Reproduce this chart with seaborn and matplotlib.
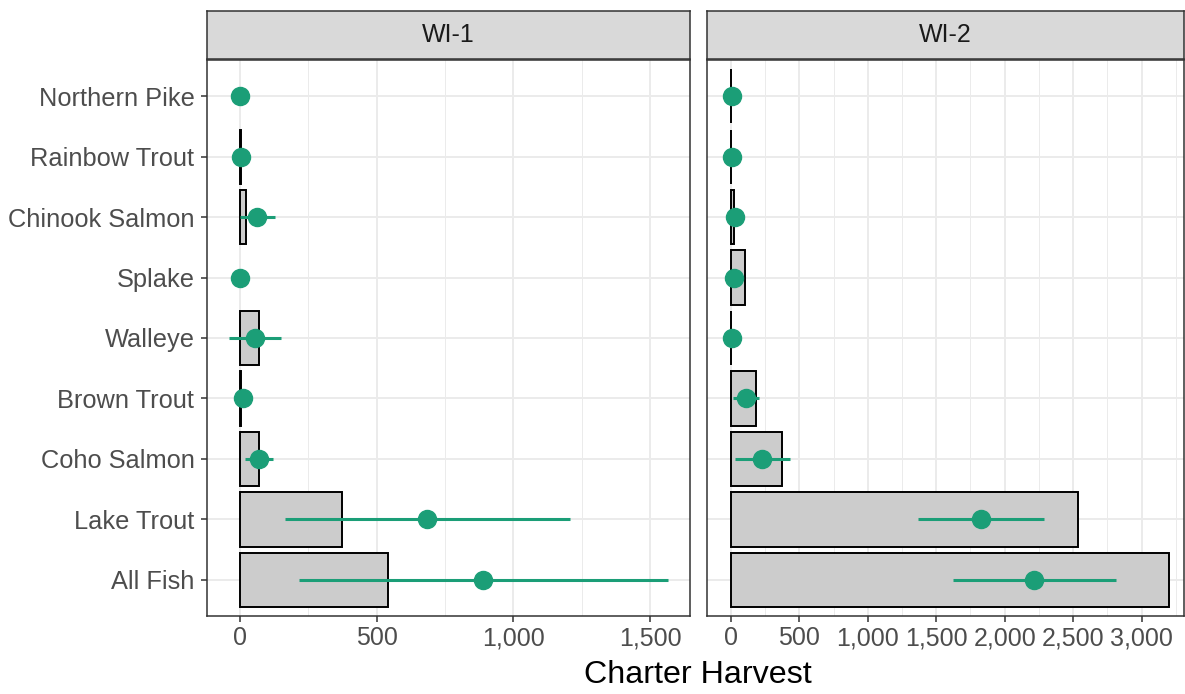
import numpy as np
import matplotlib
matplotlib.use("Agg")
import matplotlib.pyplot as plt
from matplotlib.ticker import MultipleLocator, FuncFormatter
import seaborn as sns

# Data
species = ["Northern Pike", "Rainbow Trout", "Chinook Salmon", "Splake", "Walleye",
           "Brown Trout", "Coho Salmon", "Lake Trout", "All Fish"]

# WI-1
wi1_bar = [0, 3, 22, 0, 70, 5, 70, 373, 541]
wi1_est = [0, 6, 63, 2, 55, 12, 70, 685, 890]
wi1_low = [0, 3, 0, 0, -39, 8, 19, 165, 216]
wi1_high = [0, 9, 127, 4, 152, 16, 122, 1207, 1566]

# WI-2
wi2_bar = [3, 3, 20, 105, 3, 180, 373, 2532, 3202]
wi2_est = [5, 7, 29, 24, 7, 107, 226, 1824, 2216]
wi2_low = [3, 5, 25, 20, 5, 12, 27, 1364, 1624]
wi2_high = [7, 9, 33, 28, 9, 207, 431, 2284, 2810]

panels = ["WI-1", "WI-2"]

sns.set_theme(style="whitegrid")
plt.rcParams["font.family"] = ["Liberation Sans", "DejaVu Sans"]

W, H = 1185, 694
fig = plt.figure(figsize=(W / 100, H / 100), dpi=100)

def px_axes(x0, y0, x1, y1):
    return fig.add_axes([x0 / W, 1 - y1 / H, (x1 - x0) / W, (y1 - y0) / H])

green = "#1B9E77"
gray20 = "#333333"
gray30 = "#4D4D4D"

boxes = [(207, 690), (707, 1184)]
xlims = [(-120, 1646), (-175, 3310)]
datasets = [(wi1_bar, wi1_est, wi1_low, wi1_high), (wi2_bar, wi2_est, wi2_low, wi2_high)]

for i, (name, (x0, x1), xl, (bar, est, low, high)) in enumerate(zip(panels, boxes, xlims, datasets)):
    ax = px_axes(x0, 60, x1, 616)
    ax.set_facecolor("white")
    sns.barplot(x=bar, y=species, orient="h", color="#CCCCCC", saturation=1,
                edgecolor="black", linewidth=1.4, width=0.9, ax=ax, zorder=2)
    # zero-valued bars draw nothing in the original
    for p in ax.patches:
        if p.get_width() == 0:
            p.set_visible(False)
    pos = np.arange(len(species))
    est_a = np.array(est)
    xerr = [est_a - np.array(low), np.array(high) - est_a]
    ax.errorbar(est_a, pos, xerr=xerr, fmt="o", color=green, ecolor=green,
                elinewidth=2.2, markersize=13, capsize=0, zorder=3)
    ax.set_xlim(*xl)
    ax.set_ylim(len(species) - 0.4, -0.6)
    ax.xaxis.set_major_locator(MultipleLocator(500))
    ax.xaxis.set_minor_locator(MultipleLocator(250))
    ax.xaxis.set_major_formatter(FuncFormatter(lambda v, p: f"{int(v):,}"))
    ax.grid(True, which="major", color="#EBEBEB", linewidth=1.4, zorder=0)
    ax.grid(True, which="minor", axis="x", color="#EBEBEB", linewidth=0.7, zorder=0)
    ax.set_axisbelow(True)
    for s in ax.spines.values():
        s.set_visible(True)
        s.set_color(gray20)
        s.set_linewidth(1.1)
    ax.tick_params(axis="x", which="major", length=4.5, width=1.1, color=gray20,
                   labelsize=18, labelcolor=gray30, pad=3, bottom=True)
    ax.tick_params(axis="x", which="minor", length=0)
    if i == 0:
        ax.tick_params(axis="y", length=4.5, width=1.1, color=gray20,
                       labelsize=18.3, labelcolor=gray30, pad=4.5, left=True)
    else:
        ax.tick_params(axis="y", left=False, labelleft=False)
    ax.set_xlabel("")
    ax.set_ylabel("")

    # facet strip
    sax = px_axes(x0, 11, x1, 59)
    sax.set_facecolor("#D9D9D9")
    sax.set_xticks([])
    sax.set_yticks([])
    sax.grid(False)
    for s in sax.spines.values():
        s.set_visible(True)
        s.set_color(gray20)
        s.set_linewidth(1.1)
    sax.text(0.5, 0.5, name, ha="center", va="center", fontsize=18, color="#1A1A1A",
             transform=sax.transAxes)

fig.text(698 / W, 1 - 675 / H, "Charter Harvest", ha="center", va="center",
         fontsize=23.2, color="black")

fig.savefig("out.png", dpi=100, facecolor="white")
